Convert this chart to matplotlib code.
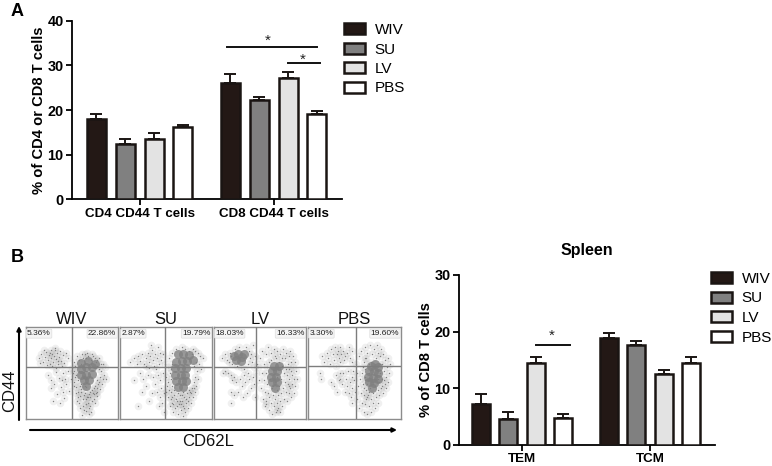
import numpy as np
import matplotlib
matplotlib.use('Agg')
import matplotlib.pyplot as plt
from matplotlib.patches import Patch, FancyArrowPatch

plt.rcParams['font.family'] = ['Liberation Sans', 'DejaVu Sans']

W, H = 772, 466

groups = ['WIV', 'SU', 'LV', 'PBS']
colors = ['#231815', '#808080', '#e3e3e3', '#ffffff']
edge = '#1a1513'

a_labels = ['CD4 CD44 T cells', 'CD8 CD44 T cells']
a_vals = [[18.0, 12.3, 13.6, 16.1], [26.0, 22.2, 27.1, 19.0]]
a_errs = [[1.1, 1.1, 1.3, 0.6], [2.0, 0.7, 1.4, 0.7]]

b_labels = ['TEM', 'TCM']
b_vals = [[7.3, 4.6, 14.5, 4.7], [18.8, 17.7, 12.6, 14.4]]
b_errs = [[1.7, 1.2, 1.1, 0.7], [1.0, 0.6, 0.7, 1.1]]

flow_pct = [('5.36%', '22.86%'), ('2.87%', '19.79%'), ('18.03%', '16.33%'), ('3.30%', '19.60%')]
flow_gates = [(50, 57), (48.5, 57), (46, 57), (52, 58)]

# dots, % of panel width / height
wiv_dots = [(14,66),(17,70),(19,62),(21,67),(22,73),(24,64),(25,69),(26,60),(27,75),(28,66),(29,71),(30,62),
    (31,68),(32,77),(33,65),(34,72),(35,60),(36,67),(37,74),(38,63),(40,69),(42,61),(16,61),(20,75),(23,59),
    (26,72),(29,58),(32,75),(35,63),(39,58),(44,72),(46,66),(24,48),(28,42),(31,38),(33,51),(36,45),(38,35),
    (40,50),(41,30),(43,44),(34,27),(30,20),(37,18),(27,34),(44,38),(42,23),(46,52),(47,31),(39,42),(33,55),
    (50,55),(52,40),(53,62),(55,35),(55,48),(56,68),(57,30),(58,52),(59,25),(60,60),(60,38),(61,70),(62,22),
    (63,45),(64,28),(65,66),(65,16),(66,35),(67,72),(68,24),(69,12),(70,30),(71,64),(72,20),(73,68),(74,27),
    (75,18),(76,62),(77,30),(78,58),(79,38),(80,66),(81,46),(82,52),(83,38),(84,60),(85,48),(86,56),(87,44),
    (49,44),(51,50),(54,58),(57,42),(60,33),(63,26),(66,22),(69,27),(72,32),(75,36),(78,42),(81,33),(84,44),
    (58,18),(62,14),(65,9),(68,18),(71,8),(74,22),(60,30),(64,36),(67,24),(70,14),(56,20),(63,10),(69,6),
    (73,28),(77,25),(61,5),(66,17),(59,12),(54,46),(56,56),(58,64),(62,66),(64,70),(68,68),(72,70),(75,66),
    (78,64),(80,54),(82,60),(52,52),(53,36),(55,28),(57,24),(59,36),(76,28),(78,34),(80,40),(74,34),(70,24)]
wiv_core = [(60,54),(66,56),(72,56),(60,48),(66,48),(72,49),(63,42),(69,42),(66,36),(60,61),(68,63),(75,60)]

su_dots = [(11,62),(15,66),(18,60),(20,68),(22,63),(24,70),(26,60),(28,66),(30,72),(31,62),(32,55),(33,68),
    (35,75),(36,64),(37,58),(38,70),(40,66),(41,78),(42,60),(44,72),(45,64),(34,80),(28,58),(39,54),(47,70),
    (15,42),(22,50),(25,44),(28,36),(32,20),(36,46),(38,38),(40,30),(41,48),(43,24),(44,42),(45,34),(47,50),
    (35,28),(30,48),(20,14),(24,30),(42,14),(46,18),(48,28),(49,60),(48,8),(50,46),(51,36),(52,56),(52,24),
    (53,66),(54,14),(55,44),(55,30),(56,72),(57,18),(58,8),(59,26),(60,12),(61,76),(62,20),(63,6),(64,16),
    (65,26),(66,10),(67,20),(68,4),(69,14),(70,24),(71,8),(72,18),(73,28),(74,12),(75,24),(76,30),(77,18),
    (78,34),(79,24),(80,40),(81,30),(82,46),(83,36),(84,52),(85,44),(86,60),(87,68),(85,72),(82,74),(79,76),
    (75,74),(71,76),(67,78),(88,54),(78,70),(83,62),(80,58),(90,66),(52,40),(54,50),(56,36),(57,24),(59,32),
    (61,22),(63,28),(65,20),(67,26),(69,30),(72,22),(75,32),(77,28),(80,34),(56,60),(55,22),(58,16),(62,14),
    (66,16),(70,12),(74,20),(53,32),(55,54),(50,30)]
su_core = [(63,70),(69,71),(75,69),(61,62),(67,63),(73,63),(79,64),(60,55),(66,55),(72,55),(60,48),(66,48),
    (71,48),(61,41),(67,41),(72,41),(63,35),(69,35)]

lv_dots = [(9,66),(12,70),(14,64),(16,62),(17,72),(19,68),(20,60),(23,76),(25,58),(27,78),(29,56),(33,54),
    (35,78),(37,60),(38,74),(39,66),(40,70),(41,62),(42,80),(44,56),(45,68),(47,60),(12,52),(10,50),(15,50),
    (18,48),(20,42),(22,46),(24,40),(26,30),(28,44),(30,36),(31,24),(33,48),(34,40),(36,28),(37,50),(38,44),
    (40,34),(42,46),(44,38),(45,24),(46,50),(18,30),(22,26),(18,18),(48,56),(49,42),(50,66),(51,34),(52,74),
    (52,50),(53,22),(54,60),(54,42),(55,30),(55,14),(56,70),(57,50),(57,20),(58,38),(59,78),(59,28),(60,10),
    (60,62),(61,44),(62,18),(62,72),(63,34),(63,6),(64,26),(64,54),(65,14),(65,76),(66,40),(66,22),(67,8),
    (67,66),(68,32),(68,18),(69,46),(69,74),(70,26),(70,12),(71,62),(71,36),(72,20),(72,70),(73,44),(73,28),
    (74,14),(74,58),(75,34),(75,76),(76,22),(76,50),(77,40),(77,66),(78,30),(78,72),(79,48),(79,20),(80,38),
    (80,60),(81,28),(81,68),(82,44),(82,54),(83,34),(83,74),(84,24),(84,62),(85,48),(85,38),(86,56),(86,68),
    (87,28),(87,44),(88,62),(88,36),(89,52),(90,44),(56,16),(60,24),(64,36),(68,10),(72,8),(58,56),(62,64),
    (66,68),(70,54),(74,66),(78,54),(82,36),(84,52)]
lv_core = [(22,68),(26,70),(30,67),(33,70),(24,64),(29,63),(63,52),(68,52),(62,46),(67,46),(63,40),(68,40),
    (65,58),(66,34),(71,58)]

pbs_dots = [(15,68),(17,62),(20,72),(22,66),(24,60),(25,76),(27,70),(28,64),(29,78),(30,58),(31,70),(32,74),
    (33,66),(34,62),(35,78),(36,70),(38,74),(39,64),(40,68),(42,72),(44,78),(45,66),(47,74),(48,62),(30,48),
    (33,42),(35,50),(13,50),(14,44),(25,40),(28,36),(31,30),(34,44),(37,38),(38,50),(40,30),(41,44),(42,36),
    (43,52),(44,28),(45,40),(46,24),(47,46),(48,34),(49,52),(48,18),(50,42),(51,30),(52,60),(53,50),(53,22),
    (54,36),(55,68),(55,12),(56,44),(57,28),(57,74),(58,18),(59,56),(59,38),(60,8),(60,26),(61,66),(61,46),
    (62,16),(62,78),(63,32),(63,22),(64,6),(64,72),(65,42),(65,26),(66,14),(66,60),(67,80),(67,34),(68,22),
    (68,8),(69,70),(69,44),(70,28),(70,18),(71,76),(71,56),(72,36),(72,12),(73,66),(73,24),(74,48),(74,80),
    (75,32),(75,18),(76,72),(76,58),(77,40),(77,26),(78,68),(78,50),(79,34),(79,76),(80,44),(80,60),(81,28),
    (81,70),(82,52),(83,38),(83,64),(84,46),(85,56),(86,66),(86,40),(87,50),(88,60),(58,50),(60,62),(62,54),
    (63,66),(64,38),(66,50),(68,62),(70,38),(72,60),(74,40),(76,44),(78,60),(80,36),(82,42),(84,34),(60,34),
    (62,42),(64,24),(66,30),(68,40)]
pbs_core = [(68,58),(72,60),(75,56),(66,52),(71,52),(76,50),(65,46),(70,45),(75,44),(66,40),(71,39),(69,34)]

flow_dots = [wiv_dots, su_dots, lv_dots, pbs_dots]
flow_core = [wiv_core, su_core, lv_core, pbs_core]


def px_axes(fig, left, top, right, bottom):
    return fig.add_axes([left / W, 1 - bottom / H, (right - left) / W, (bottom - top) / H])


def bar_panel(ax, vals, errs, labels, gap, xlim, ylim, yticks, ylabel):
    g_pos = [0, gap]
    for g, start in enumerate(g_pos):
        for i in range(4):
            ax.bar(start + i, vals[g][i], width=0.66, color=colors[i], edgecolor=edge, linewidth=1.8, zorder=3)
            ax.errorbar(start + i, vals[g][i], yerr=[[0], [errs[g][i]]], color=edge, elinewidth=1.4,
                        capsize=4.6, capthick=1.4, zorder=2)
    ax.set_xlim(*xlim)
    ax.set_ylim(*ylim)
    ax.set_yticks(yticks)
    ax.set_xticks([s + 1.5 for s in g_pos])
    ax.set_xticklabels(labels, fontweight='bold', fontsize=9.6)
    ax.set_ylabel(ylabel, fontweight='bold', fontsize=10.6, labelpad=1)
    for s in ['top', 'right']:
        ax.spines[s].set_visible(False)
    for s in ['left', 'bottom']:
        ax.spines[s].set_linewidth(1.3)
    ax.tick_params(width=1.3, length=4, pad=2)
    for t in ax.get_yticklabels():
        t.set_fontweight('bold')
        t.set_fontsize(10.4)
    return g_pos


def sig(ax, x0, x1, y, star_x, star_y):
    ax.plot([x0, x1], [y, y], color='#111111', lw=1.4, clip_on=False)
    ax.text(star_x, star_y, '*', ha='center', va='center', fontsize=11, color='#222222')


def legend(ax, left_px, top_px):
    handles = [Patch(facecolor=c, edgecolor=edge, linewidth=1.8) for c in colors]
    ax.legend(handles, groups, loc='upper left', bbox_to_anchor=(left_px / W, 1 - top_px / H),
              bbox_transform=fig.transFigure, frameon=False, fontsize=11, handlelength=1.35,
              handleheight=0.7, labelspacing=0.36, handletextpad=0.66, borderpad=0, borderaxespad=0)


fig = plt.figure(figsize=(W / 100, H / 100), dpi=100)

# panel A bars
ax_a = px_axes(fig, 72, 20.7, 342, 199.3)
pos = bar_panel(ax_a, a_vals, a_errs, a_labels, 4.65, (-0.85, 8.52), (0, 40), [0, 10, 20, 30, 40],
                '% of CD4 or CD8 T cells')
sig(ax_a, pos[1] - 0.12, pos[1] + 3, 34.1, pos[1] + 1.3, 35.6)
sig(ax_a, pos[1] + 2, pos[1] + 3.12, 30.6, pos[1] + 2.5, 31.2)
legend(ax_a, 344, 23)

# panel B bars
ax_b = px_axes(fig, 459, 275, 715, 445)
pos = bar_panel(ax_b, b_vals, b_errs, b_labels, 4.67, (-0.8, 8.54), (0, 30), [0, 10, 20, 30],
                '% of CD8 T cells')
sig(ax_b, pos[0] + 2, pos[0] + 3.25, 17.7, pos[0] + 2.6, 19.2)
ax_b.set_title('Spleen', fontweight='bold', fontsize=11.5, x=0.5, y=1.12, pad=0)
legend(ax_b, 711, 272)

# flow plots
panel_x = [(25.7, 117.7), (120, 212), (214, 306), (308, 400.7)]
for i, (x0, x1) in enumerate(panel_x):
    ax = px_axes(fig, x0, 326.7, x1, 419.3)
    dots = np.array(flow_dots[i])
    core = np.array(flow_core[i])
    # soft haze round each dot stands in for the many faint events
    ax.scatter(dots[:, 0], dots[:, 1], s=30, color='#8e8e8e', alpha=0.13, linewidths=0, zorder=1)
    ax.scatter(core[:, 0], core[:, 1], s=42, color='#808080', alpha=0.8, linewidths=0, zorder=2)
    ax.scatter(dots[:, 0], dots[:, 1], s=1.0, color='#808080', linewidths=0, zorder=3)
    ax.axvline(flow_gates[i][0], color='#7d7d7d', lw=1.0, zorder=4)
    ax.axhline(flow_gates[i][1], color='#7d7d7d', lw=1.0, zorder=4)
    ax.set_xlim(0, 100)
    ax.set_ylim(0, 100)
    ax.set_xticks([])
    ax.set_yticks([])
    for s in ax.spines.values():
        s.set_color('#8c8c8c')
        s.set_linewidth(1.0)
    box = dict(boxstyle='round,pad=0.12', facecolor='#f4f4f4', edgecolor='#dddddd', linewidth=0.5)
    ax.text(1.5, 92.5, flow_pct[i][0], fontsize=6, color='#222222', va='center', ha='left', bbox=box, zorder=5)
    ax.text(98.5, 92.5, flow_pct[i][1], fontsize=6, color='#222222', va='center', ha='right', bbox=box, zorder=5)
    ax.text(0.5, 1.0, groups[i], transform=ax.transAxes, ha='center', va='bottom',
            fontsize=12, color='#111111')

fig.text(10 / W, 1 - 391 / H, 'CD44', rotation=90, ha='center', va='center', fontsize=12, color='#111111')
fig.text(208 / W, 1 - 442 / H, 'CD62L', ha='center', va='center', fontsize=12, color='#111111')
fig.text(11 / W, 1 - 11 / H, 'A', fontweight='bold', fontsize=13, va='center')
fig.text(11 / W, 1 - 257 / H, 'B', fontweight='bold', fontsize=13, va='center')

# axis arrows of the flow plots
fig.add_artist(FancyArrowPatch((19 / W, 1 - 420 / H), (19 / W, 1 - 326 / H), transform=fig.transFigure,
               arrowstyle='-|>', mutation_scale=6, lw=1.5, color='black', shrinkA=0, shrinkB=0))
fig.add_artist(FancyArrowPatch((30 / W, 1 - 430 / H), (397 / W, 1 - 430 / H), transform=fig.transFigure,
               arrowstyle='-|>', mutation_scale=6, lw=1.5, color='black', shrinkA=0, shrinkB=0))

fig.savefig('out.png', dpi=100)
